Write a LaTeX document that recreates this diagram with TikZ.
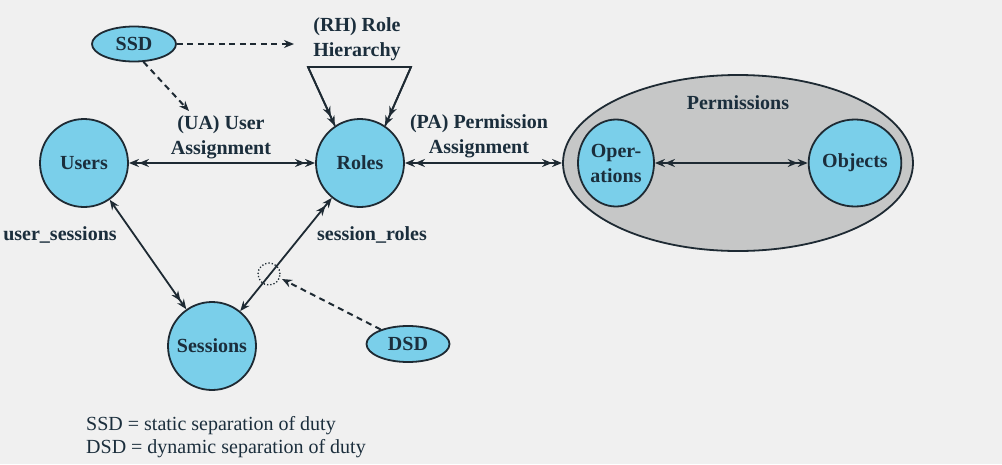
\documentclass[tikz,border=0pt]{standalone}
\usepackage{fontspec}
\setmainfont{Liberation Serif}
\usetikzlibrary{arrows.meta,shapes.geometric}
\definecolor{bg}{HTML}{F0F0F0}
\definecolor{cblue}{HTML}{7ACFEA}
\definecolor{edgec}{HTML}{1E2A33}
\definecolor{txt}{HTML}{1B2E3C}
\definecolor{pgray}{HTML}{C6C7C7}
\tikzset{
  bfont/.style={font=\bfseries\fontsize{20}{25}\selectfont,text=txt},
  ent/.style={circle,draw=edgec,line width=1.8pt,fill=cblue,minimum size=88pt,inner sep=0pt,bfont},
  sent/.style={ellipse,draw=edgec,line width=1.8pt,fill=cblue,inner sep=0pt,bfont},
  lbl/.style={align=center,inner sep=0pt,bfont},
  conn/.style={draw=edgec,line width=1.8pt},
  dconn/.style={draw=edgec,line width=2pt,dash pattern=on 6pt off 4.5pt},
  dd/.style={arrows={Stealth[length=10pt,width=8pt]Stealth[length=10pt,width=8pt]}-{Stealth[length=10pt,width=8pt]Stealth[length=10pt,width=8pt]}},
  sdd/.style={arrows={Stealth[length=10pt,width=8pt]}-{Stealth[length=10pt,width=8pt]Stealth[length=10pt,width=8pt]}},
  tdd/.style={arrows=-{Stealth[length=10pt,width=8pt]Stealth[length=10pt,width=8pt]}},
  ts/.style={arrows=-{Stealth[length=10pt,width=8pt]}},
}
\begin{document}
\begin{tikzpicture}[x=1pt,y=-1pt]
\fill[bg] (0,0) rectangle (1002,464);
\useasboundingbox (0,0) rectangle (1002,464);

% Permissions container
\node[ellipse,draw=edgec,line width=1.8pt,fill=pgray,minimum width=350pt,minimum height=176pt,inner sep=0pt] (perm) at (738,163) {};
\node[lbl] (permlbl) at (738,103) {Permissions};
\node[sent,minimum width=76pt,minimum height=87pt,align=center] (ops) at (616,163) {Oper-\\ations};
\node[sent,minimum width=76pt,minimum height=87pt] (obj) at (855,163) {Objects};

% main entities
\node[ent] (users) at (84,163) {Users};
\node[ent] (roles) at (360,163) {Roles};
\node[ent] (sessions) at (212,346) {Sessions};
\node[sent,minimum width=84pt,minimum height=35pt] (ssd) at (134,44) {SSD};
\node[sent,minimum width=83pt,minimum height=36pt] (dsd) at (408,344) {DSD};

% labels
\node[lbl] (rhlbl) at (357,39) {(RH) Role\\Hierarchy};
\node[lbl] (ualbl) at (221,137) {(UA) User\\Assignment};
\node[lbl] (palbl) at (479,136) {(PA) Permission\\Assignment};
\node[lbl] (uslbl) at (60,235) {user\_sessions};
\node[lbl] (srlbl) at (372,235) {session\_roles};
\node[align=left,anchor=west,inner sep=0pt,font=\fontsize{20}{23}\selectfont,text=txt] (legend) at (86,437) {SSD = static separation of duty\\DSD = dynamic separation of duty};

% coordinates
\coordinate (rh1) at (308,67);
\coordinate (rh2) at (411,67);
\coordinate (ssdend) at (294,44);
\coordinate (uaend) at (189,111);
\node[circle,draw=edgec,line width=1.3pt,dotted,minimum size=22pt,inner sep=0pt] (dot) at (269,274) {};
\coordinate (dsdend) at (282,279);

% connectors
\draw[conn,dd] (users) -- (roles);
\draw[conn,dd] (roles) -- (perm.west);
\draw[conn,dd] (ops) -- (obj);
\draw[conn,sdd] (users) -- (sessions);
\draw[conn,sdd] (sessions) -- (roles);
\draw[conn,line join=miter] (roles.124) -- (rh1) -- (rh2) -- (roles.56);
\draw[conn,tdd] (rh1) -- (roles.124);
\draw[conn,tdd] (rh2) -- (roles.56);

\draw[dconn,ts] (ssd.east) -- (ssdend);
\draw[dconn,ts] (ssd.-62) -- (uaend);
\draw[dconn,ts] (dsd.152) -- (dsdend);
\end{tikzpicture}
\end{document}
